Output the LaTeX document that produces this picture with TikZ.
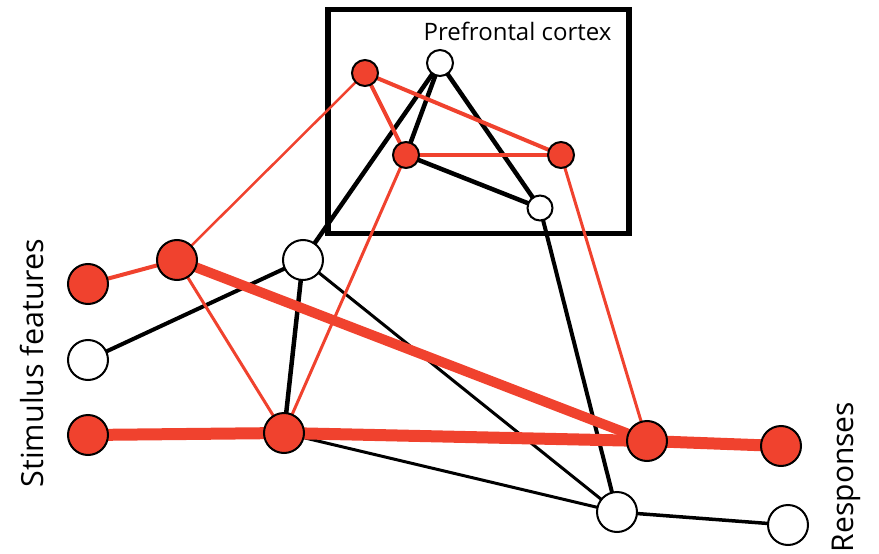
\documentclass[tikz,border=0pt]{standalone}
\usepackage{fontspec}
\setmainfont{Open Sans}
\usetikzlibrary{backgrounds}
\definecolor{unitred}{RGB}{240,66,46}
\begin{document}
\begin{tikzpicture}[x=1pt,y=-1pt,
  unit/.style={circle,draw=black,line width=2pt,inner sep=0pt,minimum size=40pt},
  pfcunit/.style={unit,minimum size=26pt},
  active/.style={fill=unitred},
  silent/.style={fill=white},
  rlink/.style={draw=unitred,line cap=round},
  blink/.style={draw=black,line cap=round},
  label/.style={inner sep=0pt,font=\fontsize{30}{36}\selectfont}
]
\useasboundingbox (0,0) rectangle (879,554);

% stimulus layer
\node[unit,active] (s1) at (88,284) {};
\node[unit,silent] (s2) at (88,360) {};
\node[unit,active] (s3) at (88,435) {};
% hidden layer
\node[unit,active] (h1) at (177,260) {};
\node[unit,silent] (h2) at (303,260) {};
\node[unit,active] (h3) at (284,433) {};
% premotor layer
\node[unit,active] (m1) at (647,441) {};
\node[unit,silent] (m2) at (617,512) {};
% responses
\node[unit,active] (r1) at (781,446) {};
\node[unit,silent] (r2) at (788,525) {};
% prefrontal units
\node[pfcunit,active] (p1) at (365,73) {};
\node[pfcunit,silent] (p2) at (440,63) {};
\node[pfcunit,active] (p3) at (406,155) {};
\node[pfcunit,active] (p4) at (561,155) {};
\node[pfcunit,silent,minimum size=25pt] (p5) at (540,208) {};

\begin{scope}[on background layer]
  % prefrontal frame
  \node[draw=black,line width=5.5pt,inner sep=0pt,minimum width=301pt,minimum height=224pt] (pfc) at (478.5,121.5) {};
  % black connections
  \draw[blink,line width=4pt] (s2.center) -- (h2.center);
  \draw[blink,line width=4.5pt] (h2.center) -- (p2.center);
  \draw[blink,line width=4.5pt] (h2.center) -- (h3.center);
  \draw[blink,line width=3pt] (h2.center) -- (m2.center);
  \draw[blink,line width=3pt] (h3.center) -- (m2.center);
  \draw[blink,line width=4.5pt] (p2.center) -- (p3.center);
  \draw[blink,line width=4.5pt] (p2.center) -- (p5.center);
  \draw[blink,line width=4.5pt] (p3.center) -- (p5.center);
  \draw[blink,line width=4pt] (p5.center) -- (m2.center);
  \draw[blink,line width=3.5pt] (m2.center) -- (r2.center);
  % red connections
  \draw[rlink,line width=4pt] (s1.center) -- (h1.center);
  \draw[rlink,line width=2.5pt] (h1.center) -- (p1.center);
  \draw[rlink,line width=3pt] (h1.center) -- (h3.center);
  \draw[rlink,line width=3pt] (h3.center) -- (p3.center);
  \draw[rlink,line width=4pt] (p1.center) -- (p3.center);
  \draw[rlink,line width=4pt] (p1.center) -- (p4.center);
  \draw[rlink,line width=4pt] (p3.center) -- (p4.center);
  \draw[rlink,line width=3pt] (p4.center) -- (m1.center);
  \draw[rlink,line width=10pt] (h1.center) -- (m1.center);
  \draw[rlink,line width=12pt] (s3.center) -- (h3.center);
  \draw[rlink,line width=12pt] (h3.center) -- (m1.center);
  \draw[rlink,line width=12pt] (m1.center) -- (r1.center);
\end{scope}

% labels
\node[label,font=\fontsize{24}{28}\selectfont,anchor=base] (pfclabel) at (517.5,41) {Prefrontal cortex};
\node[label,font=\fontsize{30.5}{36}\selectfont,rotate=90,anchor=base] (stimlabel) at (43,363) {Stimulus features};
\node[label,rotate=90,anchor=base] (resplabel) at (853,477) {Responses};
\end{tikzpicture}
\end{document}
